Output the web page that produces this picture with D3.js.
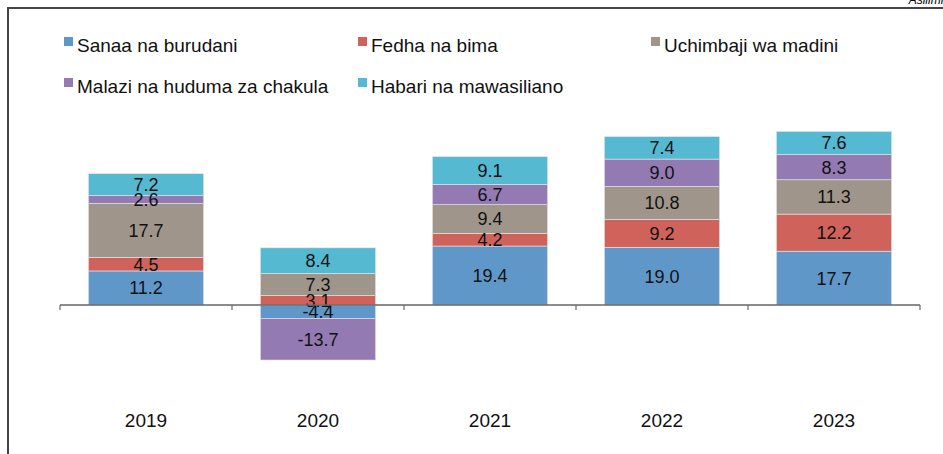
<!DOCTYPE html>
<html lang="sw">
<head>
<meta charset="UTF-8">
<title>Mchango wa sekta</title>
<script src="https://d3js.org/d3.v7.min.js"></script>
<style>
  body { margin: 0; background: #fff; }
  svg { display: block; font-family: "Liberation Sans", Arial, Helvetica, sans-serif; }
  .val { font-size: 18px; fill: #111; }
  .year { font-size: 19px; fill: #111; }
  .leg { font-size: 19px; fill: #111; }
</style>
</head>
<body>
<div id="chart"></div>
<script>
// data
var years = ["2019", "2020", "2021", "2022", "2023"];
var sectors = ["Sanaa na burudani", "Fedha na bima", "Uchimbaji wa madini",
               "Malazi na huduma za chakula", "Habari na mawasiliano"];
var sanaa     = [11.2, -4.4, 19.4, 19.0, 17.7];
var fedha     = [4.5, 3.1, 4.2, 9.2, 12.2];
var uchimbaji = [17.7, 7.3, 9.4, 10.8, 11.3];
var malazi    = [2.6, -13.7, 6.7, 9.0, 8.3];
var habari    = [7.2, 8.4, 9.1, 7.4, 7.6];
var colors = ["#6097c9", "#cf625a", "#a0958b", "#947ab2", "#54b9d1"];

var series = [sanaa, fedha, uchimbaji, malazi, habari];
var rows = years.map(function(y, i) {
  var r = { year: y };
  sectors.forEach(function(s, j) { r[s] = series[j][i]; });
  return r;
});

var width = 943, height = 454;
var svg = d3.select("#chart").append("svg")
    .attr("width", width)
    .attr("height", height);

// frame lines (left + top)
svg.append("path")
    .attr("d", "M8," + height + "V8H" + width)
    .attr("fill", "none")
    .attr("stroke", "#444")
    .attr("stroke-width", 2);

svg.append("text")
    .attr("x", 950).attr("y", 4)
    .attr("text-anchor", "end")
    .style("font-size", "12px")
    .style("font-style", "italic")
    .text("Asilimia");

// scales
var x = d3.scaleBand().domain(years).range([60, 920])
    .paddingInner(0.33).paddingOuter(0.165);
var xAxis = d3.scaleBand().domain(years).range([60, 920]);
var y = d3.scaleLinear().domain([-20, 60]).range([365.8, 122.6]);

var stack = d3.stack().keys(sectors).offset(d3.stackOffsetDiverging);
var layers = stack(rows);

var g = svg.append("g");
layers.forEach(function(layer, k) {
  g.append("g").selectAll("rect")
    .data(layer)
    .enter().append("rect")
      .attr("x", function(d) { return x(d.data.year); })
      .attr("width", x.bandwidth())
      .attr("y", function(d) { return y(Math.max(d[0], d[1])); })
      .attr("height", function(d) { return Math.abs(y(d[0]) - y(d[1])); })
      .attr("fill", colors[k])
      .attr("stroke", "#e6e6e6")
      .attr("stroke-width", 0.6);
});

// value labels (plain hyphen for negatives, as in the source)
layers.forEach(function(layer) {
  g.append("g").selectAll("text")
    .data(layer)
    .enter().append("text")
      .attr("class", "val")
      .attr("x", function(d) { return x(d.data.year) + x.bandwidth() / 2; })
      .attr("y", function(d) { return y((d[0] + d[1]) / 2); })
      .attr("dy", "0.36em")
      .attr("text-anchor", "middle")
      .text(function(d) { return d.data[layer.key].toFixed(1); });
});

// x axis: line with ticks at category boundaries
var y0 = y(0);
var axis = svg.append("g");
axis.append("line")
    .attr("x1", 60).attr("x2", 920)
    .attr("y1", y0).attr("y2", y0)
    .attr("stroke", "#666").attr("stroke-width", 1.5);
var bounds = years.map(function(d) { return xAxis(d); }).concat([920]);
axis.selectAll(".tick")
  .data(bounds)
  .enter().append("line")
    .attr("x1", function(d) { return d; }).attr("x2", function(d) { return d; })
    .attr("y1", y0).attr("y2", y0 + 5)
    .attr("stroke", "#666").attr("stroke-width", 1.2);
axis.selectAll(".year")
  .data(years)
  .enter().append("text")
    .attr("class", "year")
    .attr("x", function(d) { return xAxis(d) + xAxis.bandwidth() / 2; })
    .attr("y", 427)
    .attr("text-anchor", "middle")
    .text(function(d) { return d; });

// legend
var legPos = [[64, 37], [358, 37], [651, 37], [64, 78], [358, 78]];
var leg = svg.append("g").selectAll("g")
  .data(sectors)
  .enter().append("g")
    .attr("transform", function(d, i) { return "translate(" + legPos[i][0] + "," + legPos[i][1] + ")"; });
leg.append("rect")
    .attr("width", 9).attr("height", 9)
    .attr("fill", function(d, i) { return colors[i]; });
leg.append("text")
    .attr("class", "leg")
    .attr("x", 13).attr("y", 15)
    .text(function(d) { return d; });
</script>
</body>
</html>
